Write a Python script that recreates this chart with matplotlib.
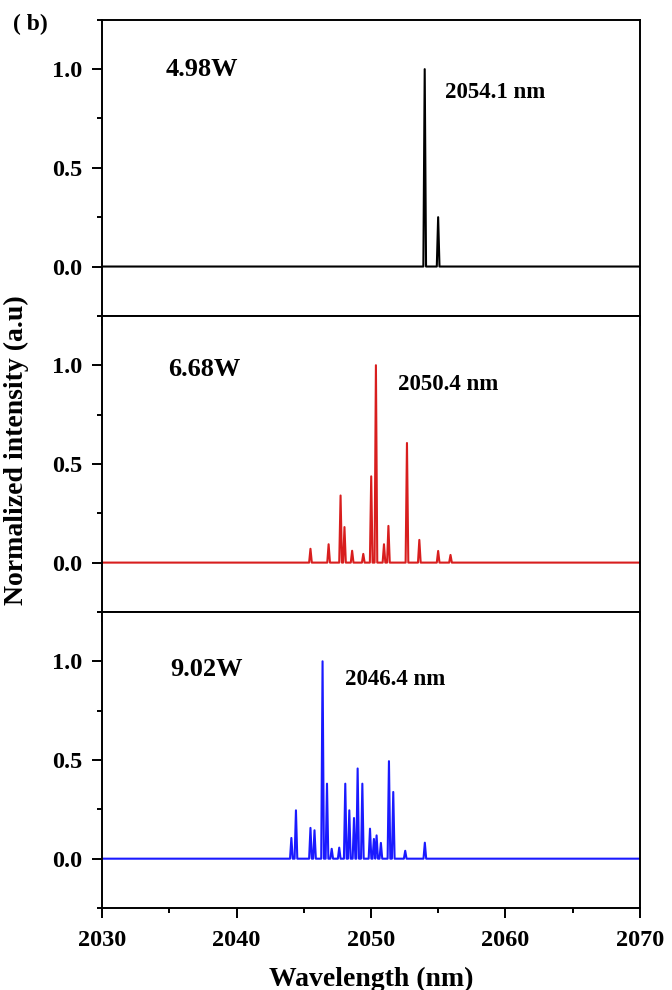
import numpy as np
import matplotlib
matplotlib.use('Agg')
import matplotlib.pyplot as plt
from matplotlib.ticker import MultipleLocator

plt.rcParams['font.family'] = ['Liberation Serif', 'DejaVu Serif']
plt.rcParams['font.weight'] = 'bold'

# wavelength range of the spectra (nm)
wl_min, wl_max = 2030, 2070

# peak positions (nm) and normalized heights
peaks_498_wl = [2054.0, 2055.0]
peaks_498_h = [1.0, 0.25]

peaks_668_wl = [2045.5, 2046.85, 2047.74, 2048.03, 2048.6, 2049.43, 2050.02, 2050.37,
                2050.97, 2051.3, 2052.68, 2053.6, 2055.0, 2055.92]
peaks_668_h = [0.07, 0.093, 0.34, 0.18, 0.06, 0.044, 0.437, 1.0,
               0.093, 0.186, 0.606, 0.115, 0.059, 0.039]

peaks_902_wl = [2044.08, 2044.42, 2045.5, 2045.8, 2046.4, 2046.73, 2047.08, 2047.64,
                2048.09, 2048.39, 2048.74, 2049.01, 2049.36, 2049.93, 2050.22, 2050.42,
                2050.74, 2051.34, 2051.66, 2052.55, 2054.01]
peaks_902_h = [0.105, 0.245, 0.156, 0.144, 1.0, 0.38, 0.05, 0.056,
               0.38, 0.245, 0.206, 0.457, 0.38, 0.152, 0.10, 0.118,
               0.08, 0.494, 0.338, 0.04, 0.081]

powers = ['4.98W', '6.68W', '9.02W']
center_labels = ['2054.1 nm', '2050.4 nm', '2046.4 nm']
colors = ['black', '#d81e1e', '#1a1aff']


def spectrum(wl, h, w=0.1):
    # narrow spikes on a flat baseline
    xs, ys = [wl_min], [0.0]
    for c, hh in zip(wl, h):
        xs += [c - w, c, c + w]
        ys += [0.0, hh, 0.0]
    xs.append(wl_max)
    ys.append(0.0)
    return xs, ys


fig = plt.figure(figsize=(6.72, 9.9), dpi=100)
gs = fig.add_gridspec(3, 1, hspace=0,
                      left=0.152, right=0.952, top=0.980, bottom=0.0828)
axes = [fig.add_subplot(gs[i]) for i in range(3)]

data = [(peaks_498_wl, peaks_498_h), (peaks_668_wl, peaks_668_h), (peaks_902_wl, peaks_902_h)]
power_pos = [(2034.7, 1.0), (2034.9, 0.98), (2035.1, 0.96)]
center_pos = [(2055.5, 0.88), (2052.0, 0.90), (2048.07, 0.91)]

for i, ax in enumerate(axes):
    xs, ys = spectrum(*data[i])
    ax.plot(xs, ys, color=colors[i], lw=1.5)
    ax.set_xlim(wl_min, wl_max)
    ax.set_ylim(-0.25, 1.25)
    ax.set_yticks([0.0, 0.5, 1.0])
    ax.yaxis.set_minor_locator(MultipleLocator(0.25))
    ax.xaxis.set_major_locator(MultipleLocator(10))
    ax.xaxis.set_minor_locator(MultipleLocator(5))
    ax.tick_params(which='major', direction='out', length=7, width=1.4, labelsize=17.5)
    ax.tick_params(which='minor', direction='out', length=3.5, width=1.4)
    ax.tick_params(axis='y', which='major', pad=7)
    ax.tick_params(axis='x', which='major', pad=9)
    ax.tick_params(top=False, right=False)
    for s in ax.spines.values():
        s.set_linewidth(1.4)
    if i < 2:
        ax.tick_params(labelbottom=False)
    ax.text(*power_pos[i], powers[i], fontsize=19, fontweight='bold', va='center', ha='left')
    ax.text(*center_pos[i], center_labels[i], fontsize=16.5, fontweight='bold', va='center', ha='left')

axes[2].set_xlabel('Wavelength (nm)', fontsize=20, fontweight='bold', labelpad=11)
fig.text(0.024, 0.545, 'Normalized intensity (a.u)', rotation=90, fontsize=20,
         fontweight='bold', va='center', ha='center')
fig.text(0.019, 0.975, '( b)', fontsize=17, fontweight='bold', va='center', ha='left')

plt.savefig('out.png', dpi=100)
